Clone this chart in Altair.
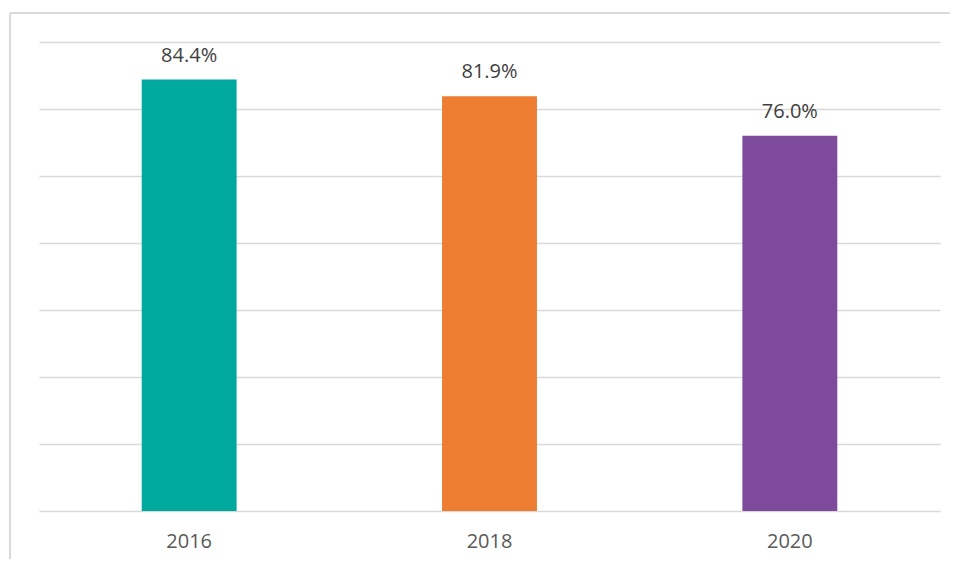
import altair as alt
import pandas as pd

years = ["2016", "2018", "2020"]
values = [84.4, 81.9, 76.0]
labels = ["84.4%", "81.9%", "76.0%"]
colors = ["#00A99D", "#ED7D31", "#7E4A9B"]
y_ticks = [20, 30, 40, 50, 60, 70, 80, 90]

df = pd.DataFrame({"year": years, "value": values, "label": labels})

W, H = 901, 469
FONT = "Open Sans"

x = alt.X(
    "year:N", sort=years,
    scale=alt.Scale(paddingInner=0.684, paddingOuter=0.342),
    axis=alt.Axis(title=None, labelAngle=0, labelFont=FONT, labelFontSize=20,
                  labelColor="#595959", labelPadding=20, ticks=False,
                  domain=False, grid=False),
)
y = alt.Y(
    "value:Q",
    scale=alt.Scale(domain=[20, 90], zero=False, nice=False),
    axis=alt.Axis(title=None, labels=False, ticks=False, domain=False,
                  values=y_ticks, gridColor="#D9D9D9", gridWidth=1.5),
)

bars = alt.Chart(df).mark_bar().encode(
    x=x, y=y, y2=alt.datum(20),
    color=alt.Color("year:N", scale=alt.Scale(domain=years, range=colors), legend=None),
)

text = alt.Chart(df).mark_text(
    font=FONT, fontSize=20, color="#404040", baseline="alphabetic", dy=-18
).encode(
    x=alt.X("year:N", sort=years), y=alt.Y("value:Q"), text="label:N"
)

left_border = alt.Chart(df).mark_rule(color="#D9D9D9", strokeWidth=1.5).encode(
    x=alt.value(-29), y=alt.value(-29), y2=alt.value(520)
)
top_border = alt.Chart(df).mark_rule(color="#D9D9D9", strokeWidth=1.5).encode(
    x=alt.value(-29), x2=alt.value(915), y=alt.value(-29)
)

chart = alt.layer(bars, text, left_border, top_border).properties(
    width=W, height=H,
    autosize=alt.AutoSizeParams(type="none"),
    padding={"left": 31, "top": 34, "right": 10, "bottom": 48},
).configure_view(stroke=None)

chart.save("out.html", embed_options={"renderer": "svg", "actions": False})
